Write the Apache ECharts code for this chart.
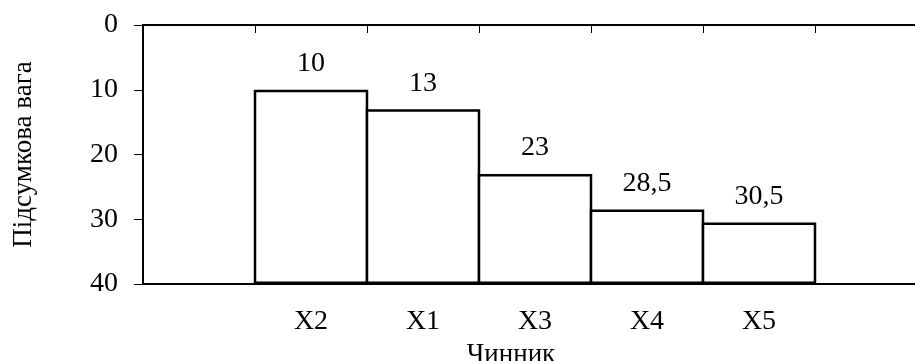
<!DOCTYPE html>
<html>
<head>
<meta charset="utf-8">
<script src="https://cdn.jsdelivr.net/npm/echarts@6/dist/echarts.min.js"></script>
<style>html,body{margin:0;padding:0;background:#fff;}#c{width:915px;height:361px;}</style>
</head>
<body>
<div id="c"></div>
<script>
var categories = ['', 'X2', 'X1', 'X3', 'X4', 'X5', ''];
var values = [null, 10, 13, 23, 28.5, 30.5, null];
var yTicks = [0, 10, 20, 30, 40];
var yName = 'Підсумкова вага';
var xName = 'Чинник';

var yMin = yTicks[0], yMax = yTicks[yTicks.length - 1];
var baseData = values.map(function (v) { return v == null ? null : v; });
var barData = values.map(function (v) { return v == null ? null : yMax - v; });
var font = '"Liberation Serif", "Times New Roman", serif';

var chart = echarts.init(document.getElementById('c'));
chart.setOption({
  animation: false,
  backgroundColor: '#fff',
  grid: { left: 143, top: 25, width: 784, height: 259, outerBoundsMode: 'none', containLabel: false,
          show: true, borderColor: '#000', borderWidth: 2, backgroundColor: 'transparent' },
  xAxis: {
    type: 'category', data: categories, position: 'bottom',
    name: xName, nameLocation: 'middle', nameGap: 57,
    nameTextStyle: { fontFamily: font, fontSize: 27, color: '#000', padding: [0, 48, 0, 0] },
    axisLine: { lineStyle: { color: '#000', width: 2 } },
    axisTick: { show: true, length: 8, lineStyle: { color: '#000', width: 1 } },
    axisLabel: { margin: 24, fontFamily: font, fontSize: 28, color: '#000' },
    splitLine: { show: false }
  },
  yAxis: {
    type: 'value', inverse: true, min: yMin, max: yMax, interval: 10,
    name: yName, nameLocation: 'middle', nameGap: 106, nameRotate: 90,
    nameTextStyle: { fontFamily: font, fontSize: 27, color: '#000' },
    axisLine: { show: true, lineStyle: { color: '#000', width: 2 } },
    axisTick: { show: true, length: 9, lineStyle: { color: '#000', width: 1 } },
    axisLabel: { margin: 25, fontFamily: font, fontSize: 28, color: '#000' },
    splitLine: { show: false }
  },
  series: [
    {
      type: 'bar', stack: 's', data: baseData, barWidth: '102.2%',
      itemStyle: { color: 'transparent', borderWidth: 0 },
      silent: true
    },
    {
      type: 'bar', stack: 's', data: barData, barWidth: '102.2%',
      itemStyle: { color: '#fff', borderColor: '#000', borderWidth: 2.5 },
      label: {
        show: true, position: 'top', distance: 12,
        fontFamily: font, fontSize: 28, color: '#000',
        formatter: function (p) { var v = values[p.dataIndex]; return v == null ? '' : String(v).replace('.', ','); }
      }
    }
  ]
});
</script>
</body>
</html>
